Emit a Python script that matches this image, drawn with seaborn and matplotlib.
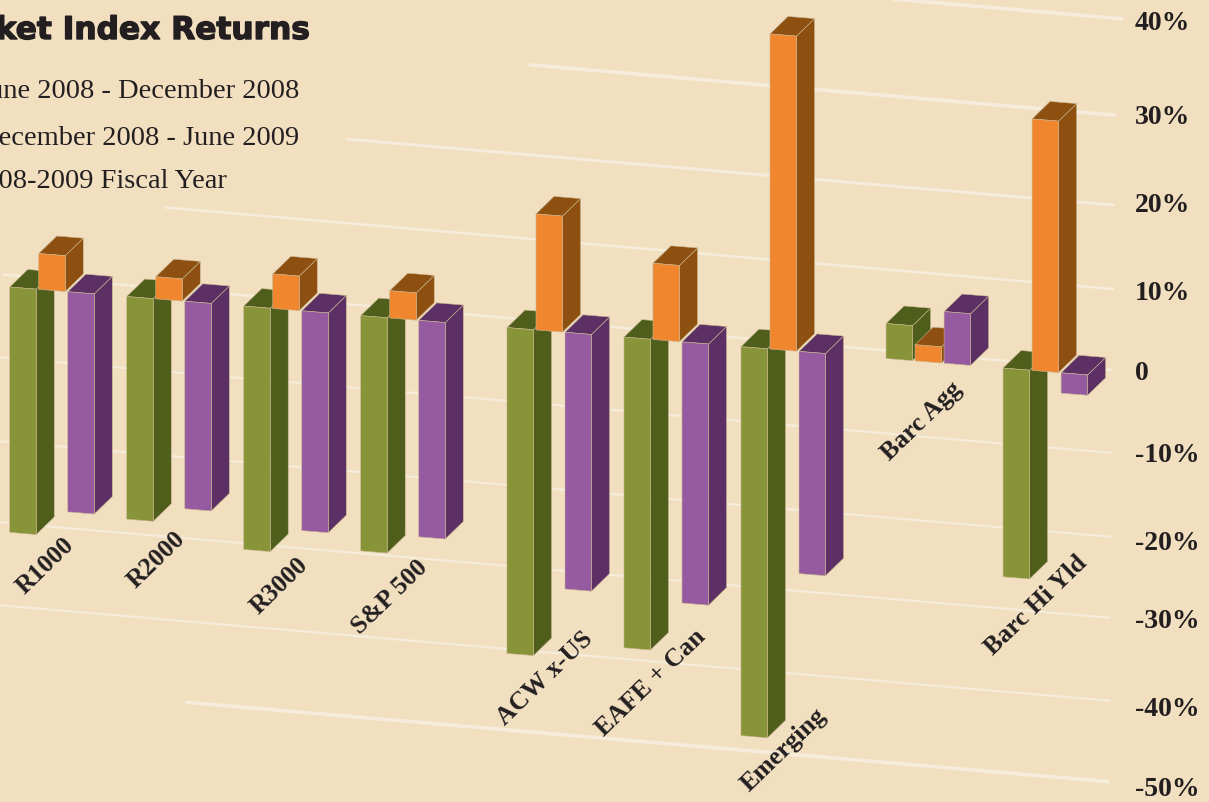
import numpy as np
import pandas as pd
import matplotlib
matplotlib.use('Agg')
import matplotlib.pyplot as plt
import matplotlib.patheffects as pe
from matplotlib.patches import Polygon
from matplotlib.transforms import Affine2D, IdentityTransform
import seaborn as sns

# Valores
indices = ['R1000', 'R2000', 'R3000', 'S&P 500', 'ACW x-US', 'EAFE + Can', 'Emerging', 'Barc Agg', 'Barc Hi Yld']
periodos = ['June 2008 - December 2008', 'December 2008 - June 2009', '2008-2009 Fiscal Year']
jun_dic = [-29.55, -26.75, -29.3, -28.3, -39.55, -37.65, -47.5, 4.1, -25.05]
dic_jun = [4.2, 2.6, 4.05, 3.2, 13.5, 8.9, 36.0, 1.9, 28.9]
anual = [-26.45, -24.9, -26.4, -26.0, -30.95, -31.5, -26.7, 6.05, -2.4]
ticks = [40, 30, 20, 10, 0, -10, -20, -30, -40, -50]
tick_labels = ['40%', '30%', '20%', '10%', '0', '-10%', '-20%', '-30%', '-40%', '-50%']

# Posicion de cada grupo en el eje (hay huecos entre familias de indices)
posiciones = [0, 1, 2, 3, 4.25, 5.25, 6.25, 7.49, 8.49]

# Layout en pixeles de la imagen
W, H = 1209, 802
PASO = 117          # px entre grupos
CENTRO_0 = 52       # centro del primer grupo
CERO_0 = 287        # altura del cero en x=10
PENDIENTE = 0.0816  # inclinacion de la base de las barras
FONDO = (18, 17.5)  # profundidad de las barras
A, B = 8.5, 0.0008  # perspectiva del eje de valores

grid_px = [18, 115, 205, 289, 370, 453, 537, 618, 701, 782]
grid_ini = [893, 530, 348, 165, 3, 0, 0, 0, 0, 187]
grid_fin = [1122, 1115, 1113, 1113, 1112, 1112, 1111, 1110, 1110, 1108]
grid_lw = [2.6, 2.6, 2.2, 1.8, 1.8, 1.6, 1.6, 1.6, 1.6, 2.6]
tick_y = [24, 117, 205, 293, 373, 456, 544, 622, 709, 789]
label_xy = [(45, 566), (156, 560), (279, 586), (390, 597), (545, 678),
            (651, 683), (784, 750), (922, 421), (1036, 605)]

FONDO_COLOR = '#F1DFC0'
TEXTO = '#231F20'
LINEA = '#F6ECDB'
frente = ['#879437', '#F0872F', '#955AA0']
lado = ['#505E1C', '#8E5010', '#5C3064']
borde = '#C9B68F'

df = pd.DataFrame({'indice': indices, 'pos': posiciones,
                   periodos[0]: jun_dic, periodos[1]: dic_jun, periodos[2]: anual})
df = df.melt(id_vars=['indice', 'pos'], value_vars=periodos, var_name='periodo', value_name='retorno')

sns.set_theme(style='white')
fig = plt.figure(figsize=(W / 100, H / 100), dpi=100, facecolor=FONDO_COLOR)
ax = fig.add_axes([0, 0, 1, 1])

sns.barplot(data=df, x='pos', y='retorno', hue='periodo', hue_order=periodos,
            palette=frente, saturation=1, native_scale=True, width=0.744, gap=0.086,
            legend=False, errorbar=None, ax=ax)


# El eje de valores se abre un poco hacia arriba por la perspectiva
def adelante(v):
    v = np.asarray(v, dtype=float)
    return A * v / (1 - B * v)


def atras(p):
    p = np.asarray(p, dtype=float)
    return p / (A + B * p)


ax.set_yscale('function', functions=(adelante, atras))
ax.set_xlim(-CENTRO_0 / PASO, (W - CENTRO_0) / PASO)
ax.set_ylim(float(atras(CERO_0 - H)), float(atras(CERO_0)))
ax.axis('off')

# Inclinamos todo: la base baja de izquierda a derecha
inclinada = ax.transData + Affine2D.from_values(1, -PENDIENTE, 0, 1, 0, PENDIENTE * 10)
pixeles = Affine2D().scale(1, -1).translate(0, H)

n = len(indices)
for i, barra in enumerate(ax.patches):
    h, g = i // n, i % n
    z = 5 + g * 10 + h * 2
    x0, x1 = barra.get_x(), barra.get_x() + barra.get_width()
    y0, y1 = sorted([barra.get_y(), barra.get_y() + barra.get_height()])
    barra.set_transform(inclinada)
    barra.set_clip_on(False)
    barra.set_zorder(z + 1)
    barra.set_edgecolor(borde)
    barra.set_linewidth(0.4)

    # Caras lateral y superior a partir de la barra frontal
    p = inclinada.transform([(x0, y1), (x1, y1), (x1, y0)])
    d = np.array(FONDO)
    lateral = [p[1], p[1] + d, p[2] + d, p[2]]
    tapa = [p[0], p[0] + d, p[1] + d, p[1]]
    for cara in (lateral, tapa):
        ax.add_patch(Polygon(cara, closed=True, transform=IdentityTransform(), facecolor=lado[h],
                             edgecolor=borde, linewidth=0.4, zorder=z, clip_on=False))

# Lineas de la cuadricula del fondo y etiquetas del eje
for v, py, ini, fin, lw, ty, txt in zip(ticks, grid_px, grid_ini, grid_fin, grid_lw, tick_y, tick_labels):
    ax.plot([ini, fin], [py - 0.086 * (1113 - ini), py - 0.086 * (1113 - fin)], color=LINEA, lw=lw,
            transform=pixeles, zorder=1, clip_on=False, solid_capstyle='round')
    ax.text(1135, ty, txt, transform=pixeles, ha='left', va='center', fontsize=20, fontweight='bold',
            family='Liberation Serif', color=TEXTO)

for nombre, (lx, ly) in zip(indices, label_xy):
    ax.text(lx, ly, nombre, transform=pixeles, rotation=44, ha='center', va='center', fontsize=18.5,
            fontweight='bold', family='Liberation Serif', color=TEXTO)

# Titulo y leyenda (cortados por el borde izquierdo)
titulo = ax.text(310, 39, 'Market Index Returns', transform=pixeles, ha='right', va='baseline', fontsize=22.5,
                 fontweight='bold', family='DejaVu Sans', color=TEXTO)
titulo.set_path_effects([pe.withStroke(linewidth=1.0, foreground=TEXTO)])
for periodo, fin_x, base in zip(periodos, [299, 299, 227], [98, 145, 188]):
    ax.text(fin_x, base, periodo, transform=pixeles, ha='right', va='baseline', fontsize=20.5,
            family='Liberation Serif', color=TEXTO)

fig.savefig('out.png', dpi=100, facecolor=FONDO_COLOR)
